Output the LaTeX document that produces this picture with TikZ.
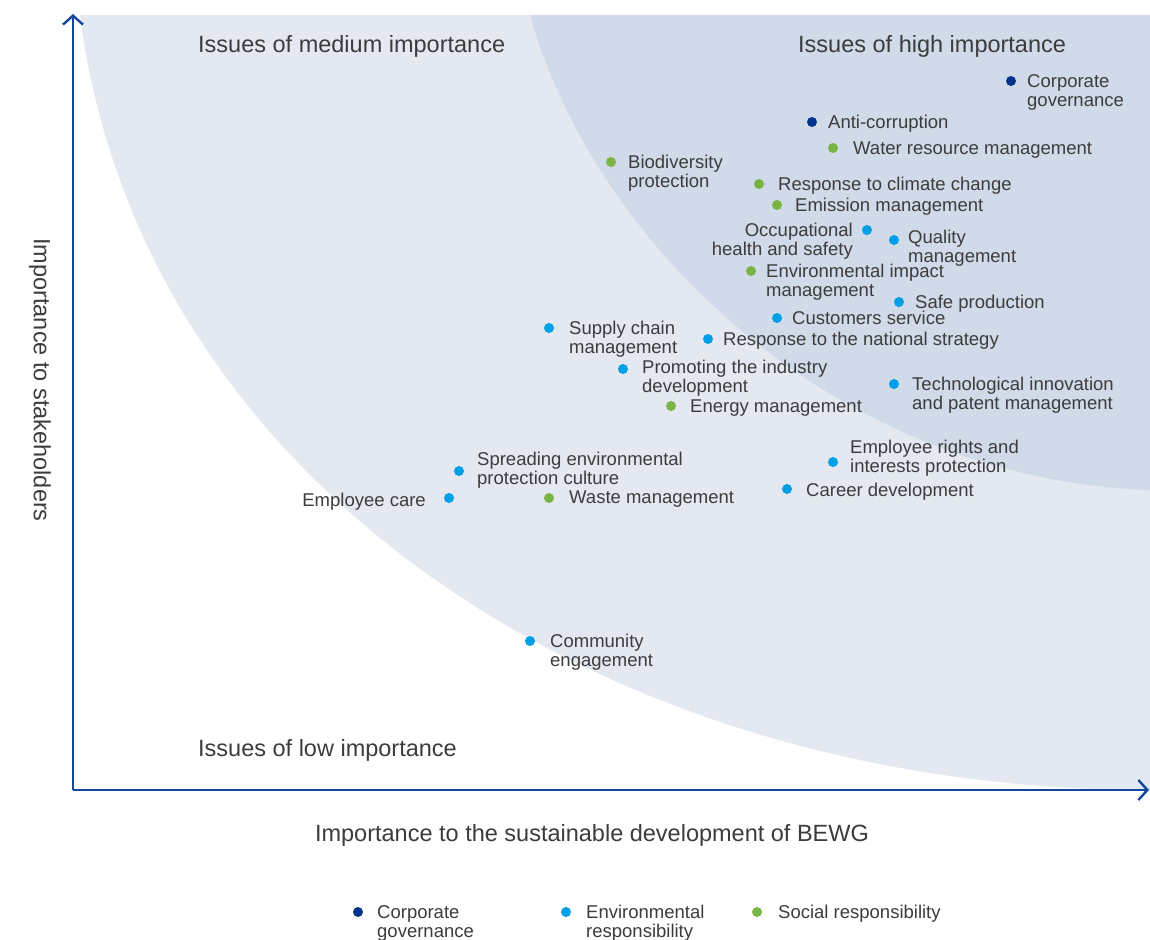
\documentclass[tikz,border=0pt]{standalone}
\usepackage{fontspec}
\setmainfont{Liberation Sans}
\usetikzlibrary{arrows.meta}
\definecolor{lightreg}{RGB}{228,233,241}
\definecolor{darkreg}{RGB}{208,218,232}
\definecolor{axisblue}{RGB}{20,70,155}
\definecolor{navydot}{RGB}{0,52,140}
\definecolor{cyandot}{RGB}{0,160,232}
\definecolor{greendot}{RGB}{122,180,68}
\definecolor{txtgray}{RGB}{60,60,60}
\newcommand{\mystrut}{\rule{0pt}{15bp}}
\tikzset{
  pdot/.style={circle, inner sep=0pt, minimum size=10bp, fill=#1},
  lbl/.style={anchor=north west, align=left, inner sep=0pt, text=txtgray,
    font=\fontsize{18.5bp}{19bp}\selectfont, execute at begin node=\mystrut},
  lbltwo/.style={lbl, yshift=-1.6bp},
  lblr/.style={lbl, anchor=north east, align=right},
  lblrtwo/.style={lblr, yshift=-1.6bp},
  bigtxt/.style={inner sep=0pt, text=txtgray, font=\fontsize{23.5bp}{26bp}\selectfont},
  axisline/.style={draw=axisblue, line width=2.4bp, -{Straight Barb[length=9bp,width=20bp,line width=2.4bp]}}
}
\begin{document}
\begin{tikzpicture}[x=1bp,y=-1bp]
\useasboundingbox (0,0) rectangle (1150,940);
\fill[white] (0,0) rectangle (1150,940);
% regions
\fill[lightreg] (80,15) -- (1150,15) -- (1150,790) .. controls (600,790) and (140,480) .. (80,15) -- cycle;
\fill[darkreg] (530,15) -- (1150,15) -- (1150,490) .. controls (850,480) and (600,260) .. (530,15) -- cycle;
% axes
\coordinate (origin) at (73,790);
\coordinate (ytop) at (73,14);
\coordinate (xend) at (1149,790);
\draw[axisline] (origin) -- (ytop);
\draw[axisline] (origin) -- (xend);
% titles
\node[bigtxt, anchor=base west] (tmed) at (198,52.4) {Issues of medium importance};
\node[bigtxt, anchor=base west] (thigh) at (798,52.4) {Issues of high importance};
\node[bigtxt, anchor=base west] (tlow) at (198,756.4) {Issues of low importance};
\node[bigtxt, anchor=base] (xlab) at (592,841.4) {Importance to the sustainable development of BEWG};
\node[bigtxt, rotate=-90] (ylab) at (40,380) {Importance to stakeholders};
% issues
\node[pdot=navydot] (d1) at (1011,81) {};
\node[lbltwo] (l1) at (1027,72.6) {Corporate\\governance};
\node[pdot=navydot] (d2) at (812,122) {};
\node[lbl] (l2) at (828,113.6) {Anti-corruption};
\node[pdot=greendot] (d3) at (833,148) {};
\node[lbl] (l3) at (853,139.6) {Water resource management};
\node[pdot=greendot] (d4) at (611,162) {};
\node[lbltwo] (l4) at (628,153.6) {Biodiversity\\protection};
\node[pdot=greendot] (d5) at (759,184) {};
\node[lbl] (l5) at (778,175.6) {Response to climate change};
\node[pdot=greendot] (d6) at (777,205) {};
\node[lbl] (l6) at (795,196.6) {Emission management};
\node[pdot=cyandot] (d7) at (867,230) {};
\node[lblrtwo] (l7) at (853,221.6) {Occupational\\health and safety};
\node[pdot=cyandot] (d8) at (894,240) {};
\node[lbltwo] (l8) at (908,228.6) {Quality\\management};
\node[pdot=greendot] (d9) at (751,271) {};
\node[lbltwo] (l9) at (766,262.6) {Environmental impact\\management};
\node[pdot=cyandot] (d10) at (899,302) {};
\node[lbl] (l10) at (915,293.6) {Safe production};
\node[pdot=cyandot] (d11) at (777,318) {};
\node[lbl] (l11) at (792,309.6) {Customers service};
\node[pdot=cyandot] (d12) at (549,328) {};
\node[lbltwo] (l12) at (569,319.6) {Supply chain\\management};
\node[pdot=cyandot] (d13) at (708,339) {};
\node[lbl] (l13) at (723,330.6) {Response to the national strategy};
\node[pdot=cyandot] (d14) at (623,369) {};
\node[lbltwo] (l14) at (642,358.6) {Promoting the industry\\development};
\node[pdot=cyandot] (d15) at (894,384) {};
\node[lbltwo] (l15) at (912,375.6) {Technological innovation\\and patent management};
\node[pdot=greendot] (d16) at (671,406) {};
\node[lbl] (l16) at (690,397.6) {Energy management};
\node[pdot=cyandot] (d17) at (833,462) {};
\node[lbltwo] (l17) at (850,438.6) {Employee rights and\\interests protection};
\node[pdot=cyandot] (d18) at (459,471) {};
\node[lbltwo] (l18) at (477,450.6) {Spreading environmental\\protection culture};
\node[pdot=cyandot] (d19) at (449,498) {};
\node[lblr] (l19) at (426,491.6) {Employee care};
\node[pdot=greendot] (d20) at (549,498) {};
\node[lbl] (l20) at (569,488.6) {Waste management};
\node[pdot=cyandot] (d21) at (787,489) {};
\node[lbl] (l21) at (806,481.6) {Career development};
\node[pdot=cyandot] (d22) at (530,641) {};
\node[lbltwo] (l22) at (550,632.6) {Community\\engagement};
% legend
\node[pdot=navydot] (g1) at (358,912) {};
\node[lbltwo] (gl1) at (377,903.6) {Corporate\\governance};
\node[pdot=cyandot] (g2) at (566,912) {};
\node[lbltwo] (gl2) at (586,903.6) {Environmental\\responsibility};
\node[pdot=greendot] (g3) at (757,912) {};
\node[lbl] (gl3) at (778,903.6) {Social responsibility};
\end{tikzpicture}
\end{document}
